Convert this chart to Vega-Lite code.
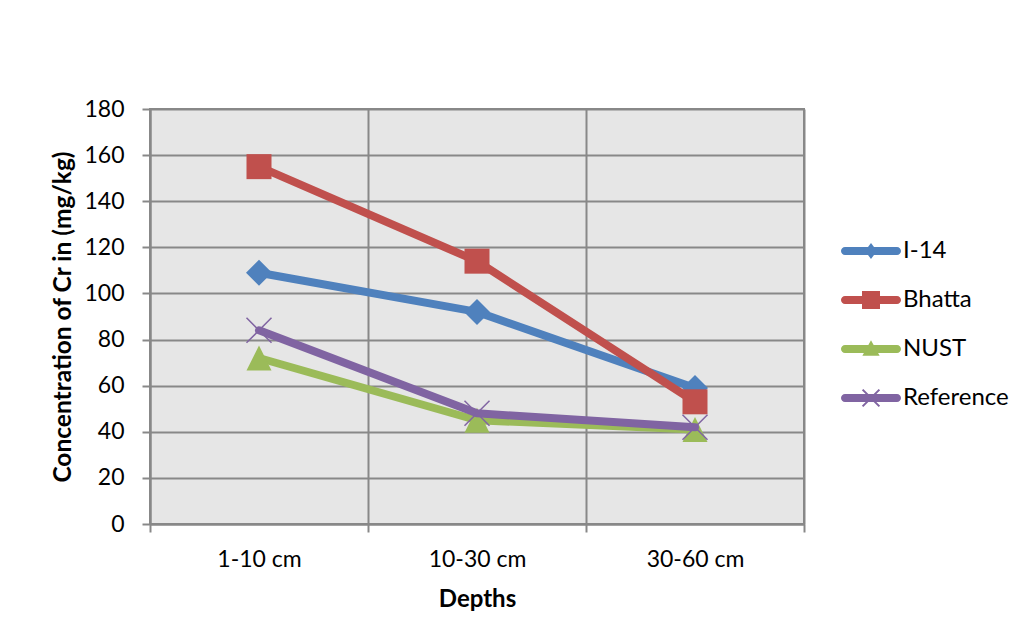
{
  "$schema": "https://vega.github.io/schema/vega-lite/v6.json",
  "width": 654,
  "height": 415,
  "autosize": {"type": "none"},
  "padding": {"left": 150, "top": 109, "right": 230, "bottom": 108},
  "background": "white",
  "data": {
    "values": [
      {"series": "I-14", "depth": "1-10 cm", "cr": 109},
      {"series": "I-14", "depth": "10-30 cm", "cr": 92},
      {"series": "I-14", "depth": "30-60 cm", "cr": 59},
      {"series": "Bhatta", "depth": "1-10 cm", "cr": 155},
      {"series": "Bhatta", "depth": "10-30 cm", "cr": 114},
      {"series": "Bhatta", "depth": "30-60 cm", "cr": 53},
      {"series": "NUST", "depth": "1-10 cm", "cr": 72},
      {"series": "NUST", "depth": "10-30 cm", "cr": 45},
      {"series": "NUST", "depth": "30-60 cm", "cr": 41},
      {"series": "Reference", "depth": "1-10 cm", "cr": 84},
      {"series": "Reference", "depth": "10-30 cm", "cr": 48},
      {"series": "Reference", "depth": "30-60 cm", "cr": 42}
    ]
  },
  "config": {
    "font": "Lato",
    "view": {"fill": "#e6e6e6", "stroke": "#888888", "strokeWidth": 2},
    "axis": {
      "domainColor": "#888888",
      "domainWidth": 2,
      "tickColor": "#888888",
      "tickWidth": 2,
      "tickSize": 8,
      "gridColor": "#888888",
      "gridWidth": 2,
      "labelFont": "Lato",
      "labelFontSize": 23,
      "labelColor": "#000000",
      "titleFont": "Lato",
      "titleFontWeight": "bold",
      "titleFontSize": 24,
      "titleColor": "#000000"
    }
  },
  "encoding": {
    "x": {
      "field": "depth",
      "type": "nominal",
      "sort": ["1-10 cm", "10-30 cm", "30-60 cm"],
      "bandPosition": 0.5,
      "scale": {"type": "band", "paddingInner": 0, "paddingOuter": 0},
      "axis": {
        "title": "Depths",
        "labelAngle": 0,
        "tickBand": "extent",
        "grid": true,
        "labelPadding": 16,
        "titlePadding": 16
      }
    },
    "y": {
      "field": "cr",
      "type": "quantitative",
      "scale": {"domain": [0, 180], "nice": false, "zero": true},
      "axis": {
        "title": "Concentration of Cr in (mg/kg)",
        "titleFontSize": 24.5,
        "values": [0, 20, 40, 60, 80, 100, 120, 140, 160, 180],
        "labelPadding": 18,
        "titlePadding": 8
      }
    },
    "color": {
      "field": "series",
      "type": "nominal",
      "sort": ["I-14", "Bhatta", "NUST", "Reference"],
      "scale": {
        "domain": ["I-14", "Bhatta", "NUST", "Reference"],
        "range": ["#4F81BD", "#C0504D", "#9BBB59", "#8064A2"]
      },
      "legend": {
        "title": null,
        "orient": "none",
        "legendX": 697,
        "legendY": 118,
        "padding": 0,
        "symbolSize": 2304,
        "rowPadding": 13,
        "labelOffset": 8,
        "labelFont": "Lato",
        "labelFontSize": 24,
        "labelColor": "#000000",
        "encode": {
          "symbols": {
            "update": {
              "shape": {
                "signal": "(datum.value === 'I-14' ? 'M0,-0.33L0.25,0L0,0.33L-0.25,0Z' : datum.value === 'Bhatta' ? 'M-0.375,-0.375L0.375,-0.375L0.375,0.375L-0.375,0.375Z' : datum.value === 'NUST' ? 'M0,-0.36L0.36,0.28L-0.36,0.28Z' : 'M-0.32,-0.38L0.38,0.32L0.32,0.38L-0.38,-0.32ZM-0.38,0.32L0.32,-0.38L0.38,-0.32L-0.32,0.38Z') + 'M-1.083,-0.167L1.083,-0.167A0.167,0.167 0 0 1 1.083,0.167L-1.083,0.167A0.167,0.167 0 0 1 -1.083,-0.167Z'"
              },
              "fill": {"scale": "color", "field": "value"},
              "stroke": {"value": null},
              "strokeWidth": {"value": 0},
              "opacity": {"value": 1},
              "fillOpacity": {"value": 1}
            }
          }
        }
      }
    }
  },
  "layer": [
    {
      "transform": [{"filter": "datum.series === 'I-14'"}],
      "mark": {"type": "line", "strokeWidth": 8, "strokeCap": "round", "strokeJoin": "round"}
    },
    {
      "transform": [{"filter": "datum.series === 'I-14'"}],
      "mark": {"type": "point", "shape": "diamond", "size": 676, "filled": true, "opacity": 1}
    },
    {
      "transform": [{"filter": "datum.series === 'Bhatta'"}],
      "mark": {"type": "line", "strokeWidth": 8, "strokeCap": "round", "strokeJoin": "round"}
    },
    {
      "transform": [{"filter": "datum.series === 'Bhatta'"}],
      "mark": {"type": "point", "shape": "square", "size": 625, "filled": true, "opacity": 1}
    },
    {
      "transform": [{"filter": "datum.series === 'NUST'"}],
      "mark": {"type": "line", "strokeWidth": 8, "strokeCap": "round", "strokeJoin": "round"}
    },
    {
      "transform": [{"filter": "datum.series === 'NUST'"}],
      "mark": {"type": "point", "shape": "M0,-1L1,1L-1,1Z", "size": 625, "filled": true, "opacity": 1}
    },
    {
      "transform": [{"filter": "datum.series === 'Reference'"}],
      "mark": {"type": "line", "strokeWidth": 8, "strokeCap": "round", "strokeJoin": "round"}
    },
    {
      "transform": [{"filter": "datum.series === 'Reference'"}],
      "mark": {"type": "point", "shape": "M-1,-1L1,1M-1,1L1,-1", "size": 625, "filled": false, "strokeWidth": 1.5, "opacity": 1}
    }
  ]
}
